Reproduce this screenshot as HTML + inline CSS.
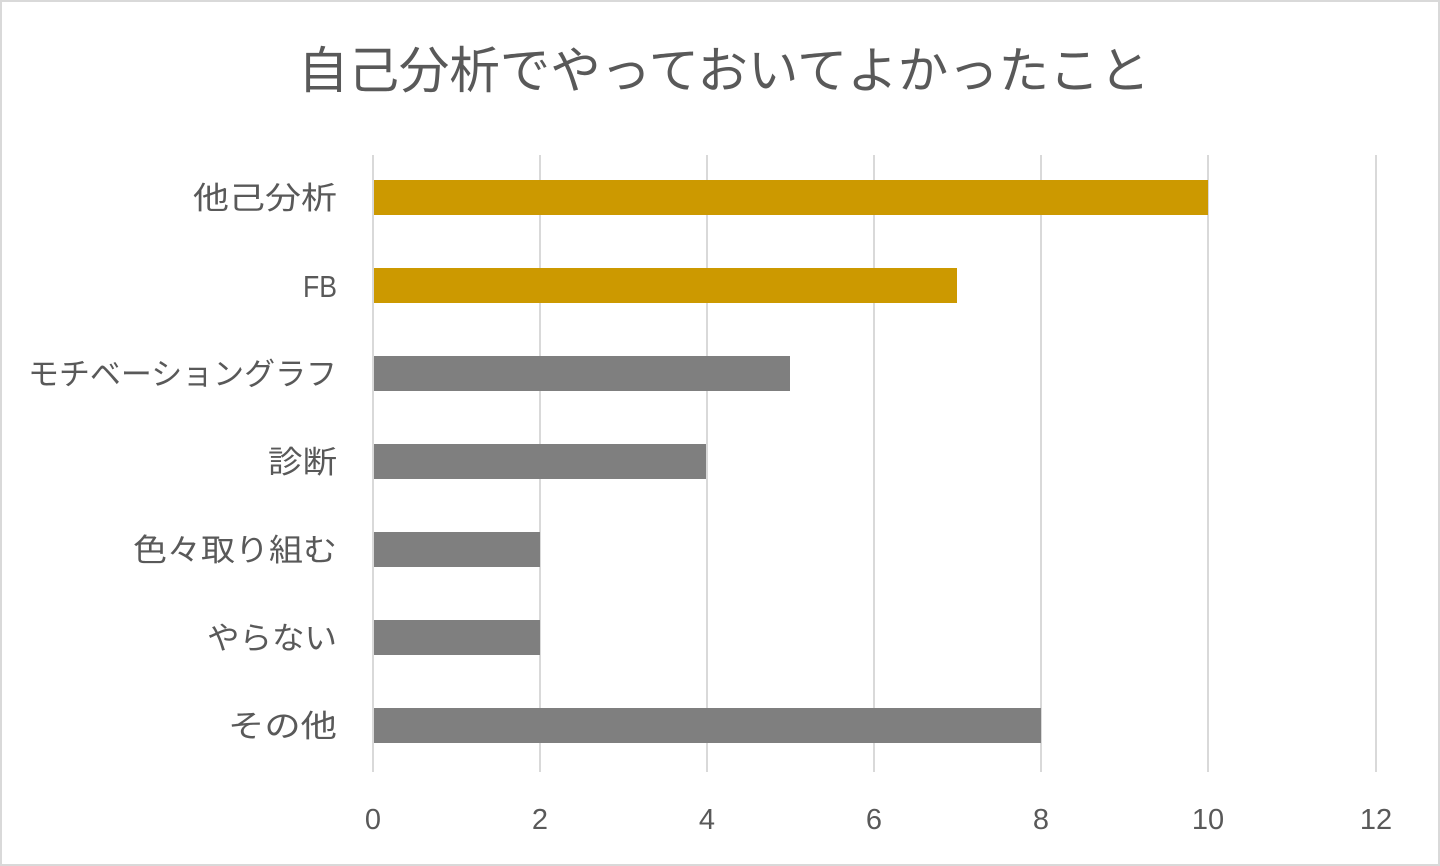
<!DOCTYPE html>
<html><head><meta charset="utf-8"><style>
html,body{margin:0;padding:0;background:#fff;}
svg{display:block;}
text{font-family:"Liberation Sans","Noto Sans CJK JP",sans-serif;fill:#595959;}
</style></head><body>
<svg width="1440" height="866" viewBox="0 0 1440 866">
<rect x="1" y="1" width="1438" height="864" fill="#fff" stroke="#d9d9d9" stroke-width="2"/>
<text x="298" y="88" font-size="50" textLength="852" lengthAdjust="spacingAndGlyphs">自己分析でやっておいてよかったこと</text>
<g stroke="#d9d9d9" stroke-width="2">
<line x1="373" y1="155" x2="373" y2="772"/>
<line x1="540" y1="155" x2="540" y2="772"/>
<line x1="707" y1="155" x2="707" y2="772"/>
<line x1="874" y1="155" x2="874" y2="772"/>
<line x1="1041" y1="155" x2="1041" y2="772"/>
<line x1="1208" y1="155" x2="1208" y2="772"/>
<line x1="1376" y1="155" x2="1376" y2="772"/>
</g>
<rect x="374" y="180" width="834" height="35" fill="#CC9900"/>
<rect x="374" y="268" width="583" height="35" fill="#CC9900"/>
<rect x="374" y="356" width="416" height="35" fill="#7F7F7F"/>
<rect x="374" y="444" width="332" height="35" fill="#7F7F7F"/>
<rect x="374" y="532" width="166" height="35" fill="#7F7F7F"/>
<rect x="374" y="620" width="166" height="35" fill="#7F7F7F"/>
<rect x="374" y="708" width="667" height="35" fill="#7F7F7F"/>
<g font-size="31">
<text x="193" y="209" textLength="144" lengthAdjust="spacingAndGlyphs">他己分析</text>
<text x="303" y="297" font-size="31" textLength="34" lengthAdjust="spacingAndGlyphs">FB</text>
<text x="28" y="385" textLength="309" lengthAdjust="spacingAndGlyphs">モチベーショングラフ</text>
<text x="268" y="473" textLength="69" lengthAdjust="spacingAndGlyphs">診断</text>
<text x="133" y="561" textLength="204" lengthAdjust="spacingAndGlyphs">色々取り組む</text>
<text x="207" y="649" textLength="130" lengthAdjust="spacingAndGlyphs">やらない</text>
<text x="228" y="737" textLength="109" lengthAdjust="spacingAndGlyphs">その他</text>
</g>
<g font-size="29" text-anchor="middle">
<text x="373" y="829">0</text>
<text x="540" y="829">2</text>
<text x="707" y="829">4</text>
<text x="874" y="829">6</text>
<text x="1041" y="829">8</text>
<text x="1208" y="829">10</text>
<text x="1376" y="829">12</text>
</g>
</svg>
</body></html>
